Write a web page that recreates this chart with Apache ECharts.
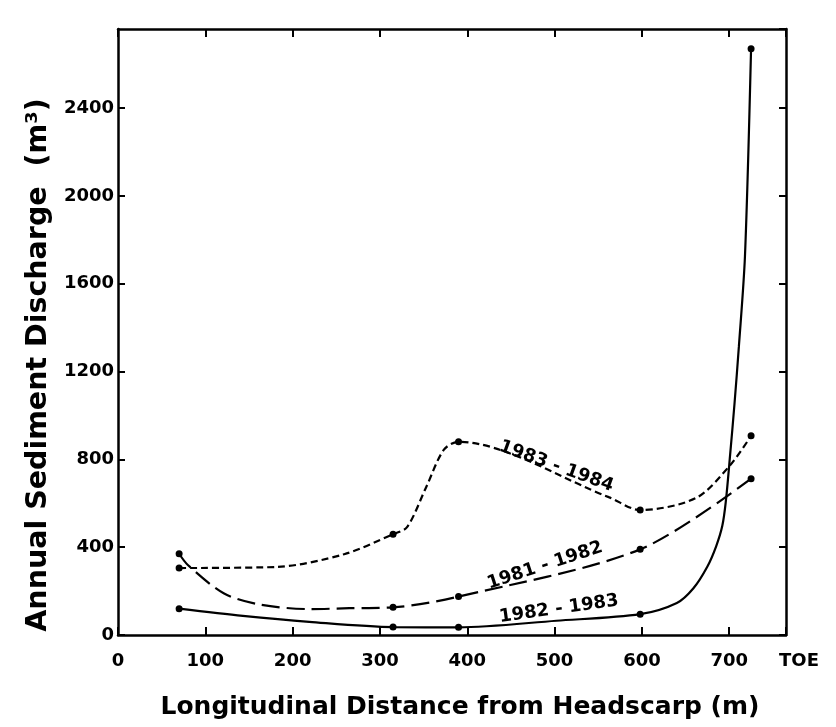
<!DOCTYPE html>
<html>
<head>
<meta charset="utf-8">
<title>Annual Sediment Discharge</title>
<script src="https://cdn.jsdelivr.net/npm/echarts@6.0.0/dist/echarts.min.js"></script>
<style>
    html, body { margin: 0; padding: 0; background: #fff; }
    #main { width: 836px; height: 727px; }
</style>
</head>
<body>
<div id="main"></div>
<script>
// measuring stations (m from headscarp) and discharge per year (m3)
var stationX = [70, 315, 390, 598, 725];
var discharge8182 = [370, 126, 175, 390, 712];
var discharge8283 = [120, 36, 35, 95, 2670];
var discharge8384 = [305, 459, 880, 569, 907];

// extra points (no marker there)
var curve8182X = [80, 121, 162, 220, 265];
var curve8182Y = [319, 190, 139, 118, 122];
var curve8283X = [143, 219, 502, 640, 659, 675, 685, 692, 696, 701, 706, 711, 718];
var curve8283Y = [87, 60, 65, 146, 213, 312, 404, 496, 605, 820, 1052, 1312, 1725];
var curve8384X = [182, 259, 331, 353, 373, 562, 662, 701];
var curve8384Y = [310, 368, 491, 674, 843, 628, 624, 773];

var seriesNames = ["1981 - 1982", "1982 - 1983", "1983 - 1984"];
var xEndLabel = "TOE";

var FONT = "DejaVu Sans";

function buildData(sx, sy, cx, cy) {
    var pts = [];
    for (var i = 0; i < sx.length; i++) {
        pts.push({value: [sx[i], sy[i]]});
    }
    for (var j = 0; j < cx.length; j++) {
        pts.push({value: [cx[j], cy[j]], symbol: "none"});
    }
    pts.sort(function (a, b) { return a.value[0] - b.value[0]; });
    return pts;
}

function curveLabel(text, coord, rot) {
    return {
        symbol: "circle",
        symbolSize: 0,
        silent: true,
        data: [{
            coord: coord,
            label: {
                show: true,
                position: "inside",
                formatter: text,
                rotate: rot,
                color: "#000",
                fontFamily: FONT,
                fontWeight: "bold",
                fontSize: 18
            }
        }]
    };
}

var axisLineStyle = {color: "#000", width: 2.5};
var tickStyle = {color: "#000", width: 2};

var myChart = echarts.init(document.getElementById("main"));

var option = {
    animation: false,
    backgroundColor: "#fff",
    grid: {
        left: 118,
        right: 50,
        top: 29,
        bottom: 92,
        containLabel: false,
        outerBoundsMode: "none"
    },
    xAxis: [{
        type: "value",
        position: "bottom",
        min: 0,
        max: 765,
        interval: 100,
        name: "Longitudinal Distance from Headscarp (m)",
        nameLocation: "middle",
        nameGap: 60,
        nameTextStyle: {
            color: "#000",
            fontFamily: FONT,
            fontWeight: "bold",
            fontSize: 25,
            padding: [0, 0, 0, 16]
        },
        axisLine: {show: true, onZero: false, lineStyle: axisLineStyle},
        axisTick: {show: true, inside: true, length: 8, lineStyle: tickStyle},
        axisLabel: {
            color: "#000",
            fontFamily: FONT,
            fontWeight: "bold",
            fontSize: 18,
            margin: 17,
            formatter: function (v) {
                if (v === 765) return "{toe|" + xEndLabel + "}";
                return String(v);
            },
            rich: {
                toe: {
                    color: "#000",
                    fontFamily: FONT,
                    fontWeight: "bold",
                    fontSize: 18,
                    padding: [0, 0, 0, 26]
                }
            }
        },
        splitLine: {show: false}
    }, {
        type: "value",
        position: "top",
        min: 0,
        max: 765,
        interval: 100,
        axisLine: {show: true, onZero: false, lineStyle: axisLineStyle},
        axisTick: {show: true, inside: true, length: 8, lineStyle: tickStyle},
        axisLabel: {show: false},
        splitLine: {show: false}
    }],
    yAxis: [{
        type: "value",
        position: "left",
        min: 0,
        max: 2760,
        interval: 400,
        name: "Annual Sediment Discharge  (m³)",
        nameLocation: "middle",
        nameGap: 58,
        nameTextStyle: {
            color: "#000",
            fontFamily: FONT,
            fontWeight: "bold",
            fontSize: 28.5,
            padding: [0, 66, 0, 0]
        },
        axisLine: {show: true, onZero: false, lineStyle: axisLineStyle},
        axisTick: {show: true, inside: true, length: 7, lineStyle: tickStyle},
        axisLabel: {
            color: "#000",
            fontFamily: FONT,
            fontWeight: "bold",
            fontSize: 18,
            margin: 4,
            showMaxLabel: false,
            formatter: function (v) { return String(v); }
        },
        splitLine: {show: false}
    }, {
        type: "value",
        position: "right",
        min: 0,
        max: 2760,
        interval: 400,
        axisLine: {show: true, onZero: false, lineStyle: axisLineStyle},
        axisTick: {show: true, inside: true, length: 7, lineStyle: tickStyle},
        axisLabel: {show: false},
        splitLine: {show: false}
    }],
    series: [{
        name: seriesNames[0],
        type: "line",
        smooth: 0.3,
        showAllSymbol: true,
        symbol: "circle",
        symbolSize: 7,
        itemStyle: {color: "#000"},
        lineStyle: {color: "#000", width: 2.2, type: [18, 7]},
        data: buildData(stationX, discharge8182, curve8182X, curve8182Y),
        markPoint: curveLabel(seriesNames[0], [489, 316], 18)
    }, {
        name: seriesNames[1],
        type: "line",
        smooth: 0.3,
        showAllSymbol: true,
        symbol: "circle",
        symbolSize: 7,
        itemStyle: {color: "#000"},
        lineStyle: {color: "#000", width: 2.2},
        data: buildData(stationX, discharge8283, curve8283X, curve8283Y),
        markPoint: curveLabel(seriesNames[1], [505, 118], 8)
    }, {
        name: seriesNames[2],
        type: "line",
        smooth: 0.3,
        showAllSymbol: true,
        symbol: "circle",
        symbolSize: 7,
        itemStyle: {color: "#000"},
        lineStyle: {color: "#000", width: 2.2, type: [7, 4]},
        data: buildData(stationX, discharge8384, curve8384X, curve8384Y),
        markPoint: curveLabel(seriesNames[2], [502, 768], -20)
    }]
};

myChart.setOption(option);
</script>
</body>
</html>
